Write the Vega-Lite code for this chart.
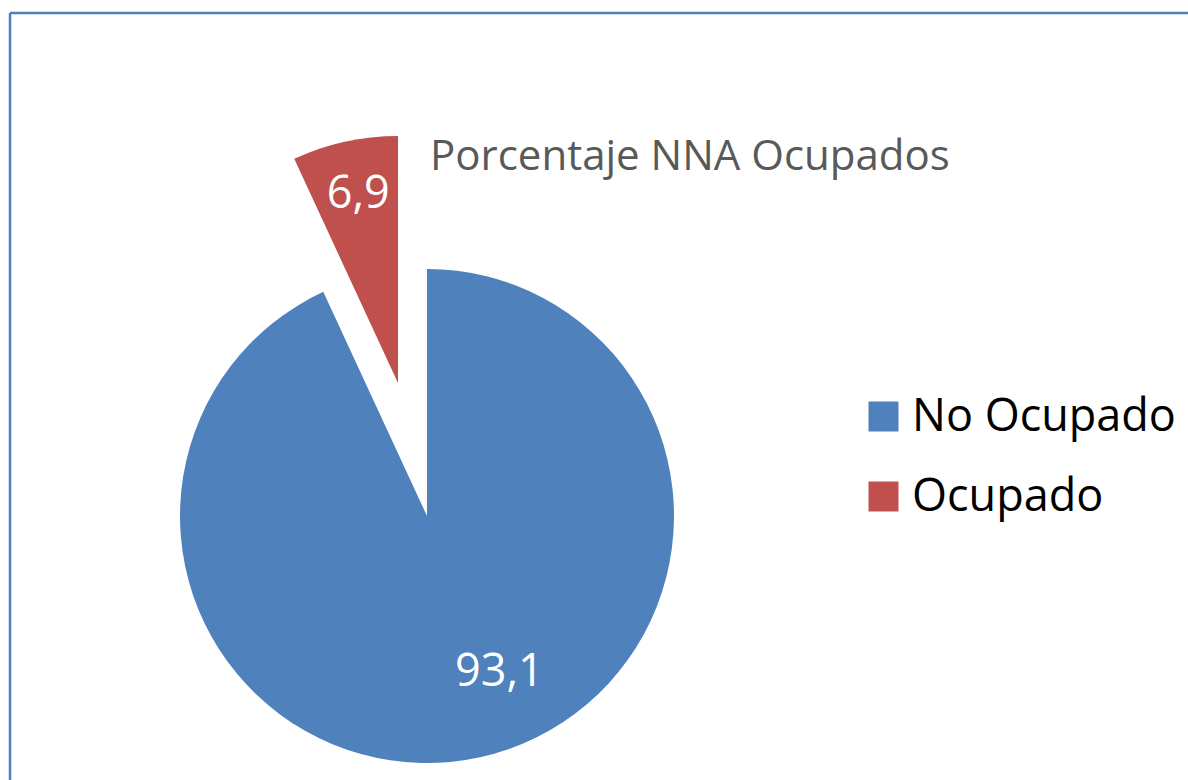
{
  "$schema": "https://vega.github.io/schema/vega-lite/v6.json",
  "width": 1178,
  "height": 767,
  "autosize": {"type": "none"},
  "padding": {"left": 10, "top": 13, "right": 0, "bottom": 0},
  "background": "white",
  "view": {"stroke": "#4f81bd", "strokeWidth": 2.5, "strokeDash": [1178, 1945, 767, 0]},
  "config": {
    "font": "Open Sans"
  },
  "title": {
    "text": "Porcentaje NNA Ocupados",
    "anchor": "start",
    "frame": "group",
    "orient": "top",
    "offset": -199,
    "dx": 420,
    "baseline": "alphabetic",
    "fontSize": 42,
    "font": "Open Sans",
    "fontWeight": "normal",
    "color": "#595959"
  },
  "data": {
    "values": [
      {"cat": "No Ocupado", "value": 93.1, "label": "93,1", "ord": 1},
      {"cat": "Ocupado", "value": 6.9, "label": "6,9", "ord": 2}
    ]
  },
  "encoding": {
    "theta": {"field": "value", "type": "quantitative", "stack": true},
    "order": {"field": "ord", "type": "quantitative"}
  },
  "layer": [
    {
      "mark": {"type": "arc", "x": 417, "y": 503, "outerRadius": 247},
      "encoding": {
        "color": {
          "field": "cat", "type": "nominal",
          "scale": {"domain": ["No Ocupado", "Ocupado"], "range": ["#4f81bd", "#c0504d"]},
          "legend": {
            "orient": "none", "legendX": 851, "legendY": 381, "title": null,
            "symbolType": "square", "symbolSize": 900, "symbolStrokeWidth": 0,
            "labelFontSize": 45, "labelFont": "Open Sans", "labelColor": "black",
            "labelOffset": 6, "rowPadding": 34, "padding": 0, "labelLimit": 400
          }
        },
        "opacity": {"condition": {"test": "datum.cat === 'Ocupado'", "value": 0}, "value": 1}
      }
    },
    {
      "mark": {"type": "arc", "x": 417, "y": 503, "outerRadius": 247, "xOffset": -29, "yOffset": -133},
      "encoding": {
        "color": {"field": "cat", "type": "nominal"},
        "opacity": {"condition": {"test": "datum.cat === 'No Ocupado'", "value": 0}, "value": 1}
      }
    },
    {
      "mark": {"type": "text", "x": 417, "y": 503, "radius": 160, "dx": 38, "fontSize": 45, "color": "white", "baseline": "middle", "font": "Open Sans"},
      "encoding": {
        "text": {"field": "label"},
        "opacity": {"condition": {"test": "datum.cat === 'Ocupado'", "value": 0}, "value": 1}
      }
    },
    {
      "mark": {"type": "text", "x": 417, "y": 503, "radius": 194, "xOffset": -27, "yOffset": -133, "fontSize": 45, "color": "white", "baseline": "middle", "font": "Open Sans"},
      "encoding": {
        "text": {"field": "label"},
        "opacity": {"condition": {"test": "datum.cat === 'No Ocupado'", "value": 0}, "value": 1}
      }
    }
  ]
}
